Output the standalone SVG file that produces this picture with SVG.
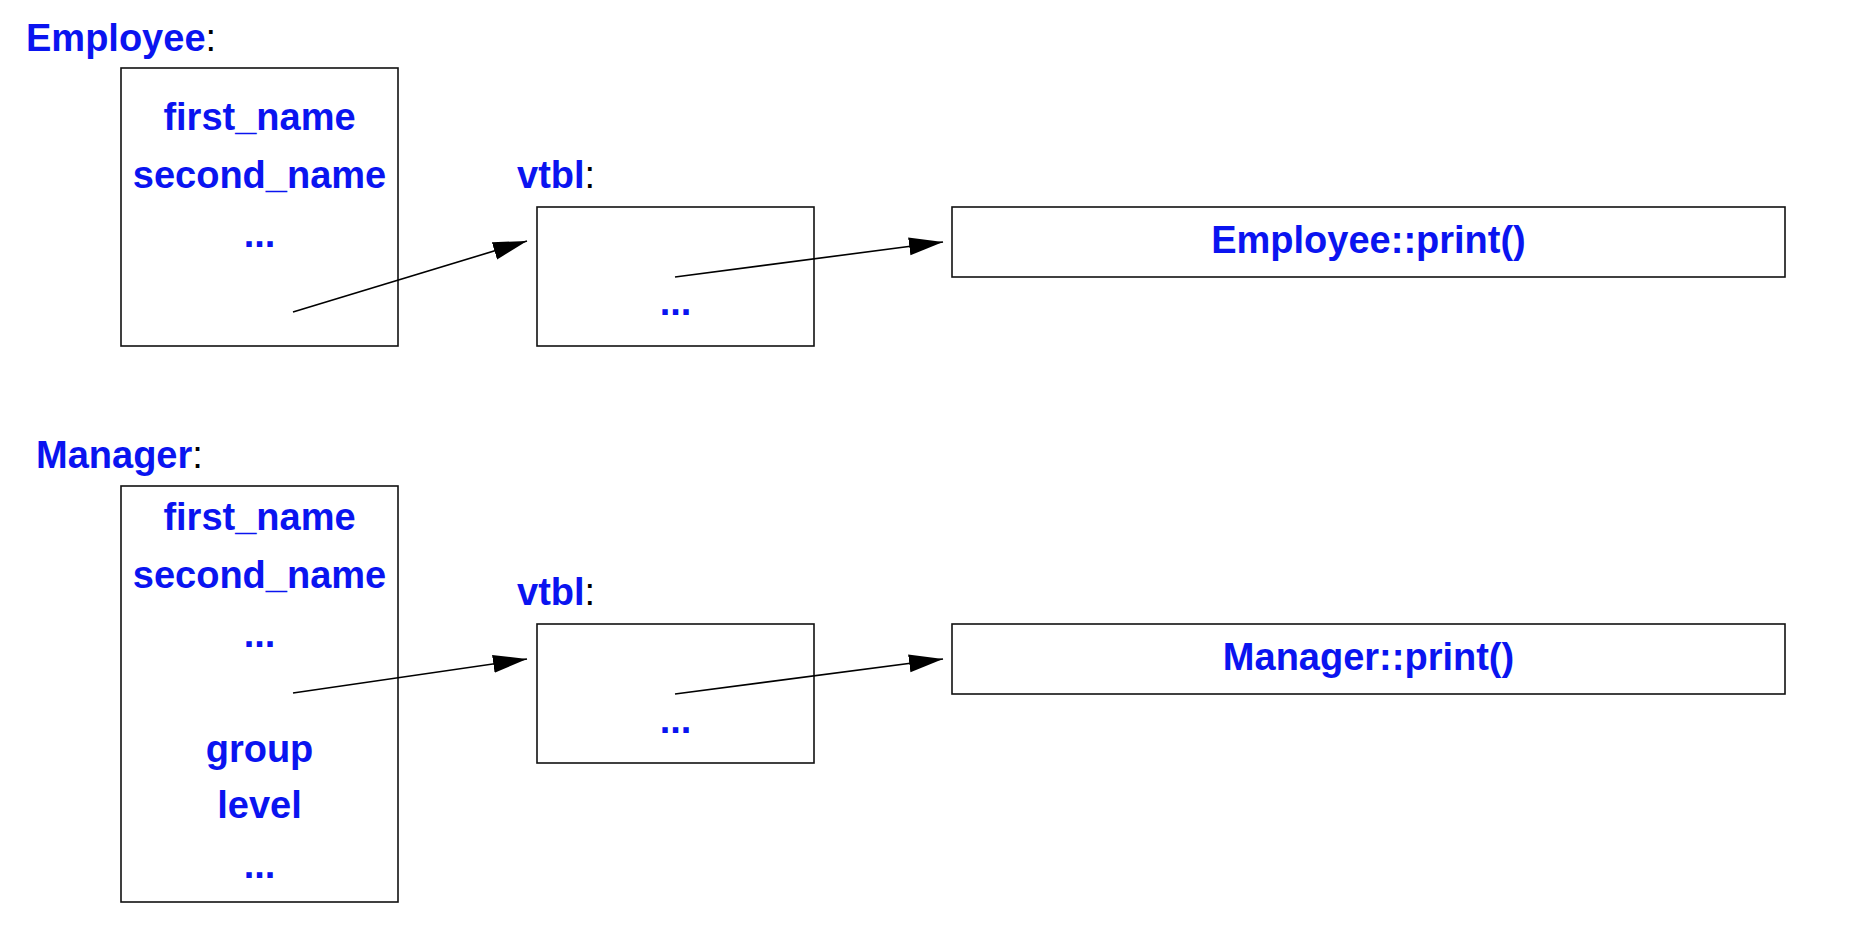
<svg xmlns="http://www.w3.org/2000/svg" width="1862" height="950" viewBox="0 0 1862 950">
<style>
.box{fill:#fff;stroke:#111;stroke-width:1.6}
text{font-family:"Liberation Sans",Arial,sans-serif;font-weight:bold;font-size:38px;fill:#0a14f0}
.c{text-anchor:middle}
.k{fill:#000;font-weight:normal}
.conn line{stroke:#000;stroke-width:1.6}
</style>
<defs>
<marker id="ah" markerUnits="userSpaceOnUse" markerWidth="36" markerHeight="20" refX="34" refY="9" orient="auto">
<path d="M0,0 L34,9 L0,18 z" fill="#000"/>
</marker>
</defs>
<rect width="1862" height="950" fill="#fff"/>
<g id="employee">
<text x="26" y="51">Employee<tspan class="k">:</tspan></text>
<rect class="box" x="121" y="68" width="277" height="278"/>
<text class="c" x="259.5" y="130">first_name</text>
<text class="c" x="259.5" y="188">second_name</text>
<text class="c" x="259.5" y="247">...</text>
</g>
<g id="employee-vtbl">
<text x="517" y="188">vtbl<tspan class="k">:</tspan></text>
<rect class="box" x="537" y="207" width="277" height="139"/>
<text class="c" x="675.5" y="315">...</text>
</g>
<g id="employee-print">
<rect class="box" x="952" y="207" width="833" height="70"/>
<text class="c" x="1368.5" y="253">Employee::print()</text>
</g>
<g id="manager">
<text x="36" y="468">Manager<tspan class="k">:</tspan></text>
<rect class="box" x="121" y="486" width="277" height="416"/>
<text class="c" x="259.5" y="530">first_name</text>
<text class="c" x="259.5" y="588">second_name</text>
<text class="c" x="259.5" y="647">...</text>
<text class="c" x="259.5" y="762">group</text>
<text class="c" x="259.5" y="818">level</text>
<text class="c" x="259.5" y="878">...</text>
</g>
<g id="manager-vtbl">
<text x="517" y="605">vtbl<tspan class="k">:</tspan></text>
<rect class="box" x="537" y="624" width="277" height="139"/>
<text class="c" x="675.5" y="733">...</text>
</g>
<g id="manager-print">
<rect class="box" x="952" y="624" width="833" height="70"/>
<text class="c" x="1368.5" y="670">Manager::print()</text>
</g>
<g class="conn" id="connectors">
<line x1="293" y1="312" x2="527" y2="241" marker-end="url(#ah)"/>
<line x1="675" y1="277" x2="943" y2="242" marker-end="url(#ah)"/>
<line x1="293" y1="693" x2="527" y2="659" marker-end="url(#ah)"/>
<line x1="675" y1="694" x2="943" y2="659" marker-end="url(#ah)"/>
</g>
</svg>
